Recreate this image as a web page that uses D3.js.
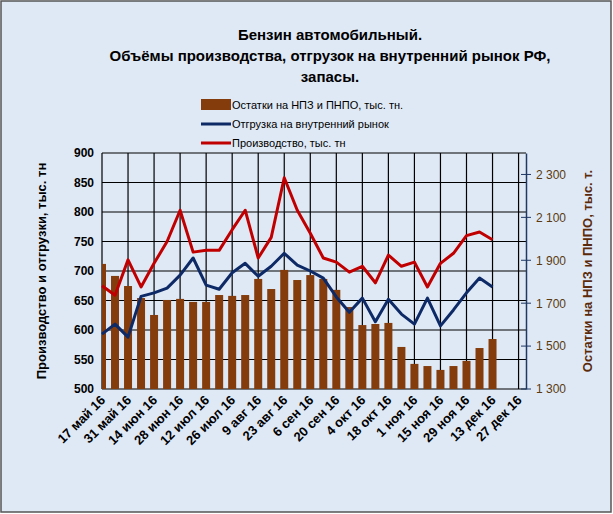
<!DOCTYPE html>
<html><head><meta charset="utf-8">
<script src="https://cdn.jsdelivr.net/npm/d3@7"></script>
<style>body{margin:0;background:#fff}</style>
</head><body><svg></svg>
<script>
var startDate = new Date(2016, 4, 17);
var production = [675, 659, 719, 673, 713, 750, 803, 732, 735, 735, 770, 803, 722, 757, 858, 803, 764, 722, 715, 698, 708, 680, 727, 708, 715, 673, 713, 730, 760, 766, 753];
var shipments = [593, 610, 588, 657, 663, 671, 693, 722, 676, 669, 697, 713, 691, 708, 730, 710, 700, 688, 656, 630, 654, 614, 652, 627, 610, 654, 607, 634, 663, 688, 673];
var stocks = [1883, 1827, 1780, 1724, 1645, 1715, 1720, 1706, 1706, 1738, 1734, 1738, 1813, 1766, 1855, 1808, 1831, 1813, 1762, 1682, 1598, 1603, 1608, 1496, 1417, 1407, 1389, 1407, 1431, 1491, 1533];
var leftTicks = [500, 550, 600, 650, 700, 750, 800, 850, 900];
var rightTicks = [1300, 1500, 1700, 1900, 2100, 2300];
var months = ['янв','фев','мар','апр','май','июн','июл','авг','сен','окт','ноя','дек'];
var dates = production.map(function(d, i) { return d3.timeDay.offset(startDate, 7 * i); });
var labelDates = d3.range(17).map(function(i) { return d3.timeDay.offset(startDate, 14 * i); });

var W = 613, H = 514, plotLeft = 102, plotRight = 526, plotTop = 153, plotBottom = 389;
var svg = d3.select('svg').attr('width', W).attr('height', H);
svg.append('rect').attr('x', 1).attr('y', 1).attr('width', W - 3).attr('height', H - 3)
    .attr('fill', '#dfe9f5').attr('stroke', '#555').attr('stroke-width', 1.5);

var x = d3.scaleTime().domain([startDate, d3.timeDay.offset(startDate, 228)]).range([plotLeft, plotRight]);
var yL = d3.scaleLinear().domain([500, 900]).range([plotBottom, plotTop]);
var yR = d3.scaleLinear().domain([1300, 2400]).range([plotBottom, plotTop]);

// grid
svg.append('g').selectAll('line').data(leftTicks).enter().append('line')
    .attr('x1', plotLeft).attr('x2', plotRight).attr('y1', yL).attr('y2', yL)
    .attr('stroke', '#000').attr('stroke-width', 1.2);
svg.append('g').selectAll('line').data(labelDates.slice(1)).enter().append('line')
    .attr('x1', x).attr('x2', x).attr('y1', plotTop).attr('y2', plotBottom)
    .attr('stroke', '#000').attr('stroke-width', 1.2);
svg.append('line').attr('x1', plotLeft).attr('x2', plotLeft).attr('y1', plotTop).attr('y2', plotBottom)
    .attr('stroke', '#000').attr('stroke-width', 1.2);

svg.append('clipPath').attr('id', 'clip').append('rect')
    .attr('x', plotLeft).attr('y', plotTop).attr('width', plotRight - plotLeft).attr('height', plotBottom - plotTop);

svg.append('g').attr('clip-path', 'url(#clip)').selectAll('rect').data(stocks).enter().append('rect')
    .attr('x', function(d, i) { return x(dates[i]) - 4; })
    .attr('width', 8)
    .attr('y', function(d) { return yR(d); })
    .attr('height', function(d) { return plotBottom - yR(d); })
    .attr('fill', '#843c0c');

function drawLine(data, color) {
    svg.append('path').datum(data)
        .attr('d', d3.line().x(function(d, i) { return x(dates[i]); }).y(function(d) { return yL(d); }))
        .attr('fill', 'none').attr('stroke', color).attr('stroke-width', 3).attr('stroke-linejoin', 'round');
}
drawLine(shipments, '#0d2a66');
drawLine(production, '#c00000');

// left axis
svg.append('g').attr('transform', 'translate(' + plotLeft + ',0)')
    .call(d3.axisLeft(yL).tickValues(leftTicks).tickSize(0).tickPadding(8))
    .call(function(g) { g.select('.domain').remove(); })
    .selectAll('text').attr('font-family', 'Liberation Sans, Arial').attr('font-size', 12)
    .attr('font-weight', 'bold').attr('fill', '#000');

// right axis
var ra = svg.append('g').attr('transform', 'translate(' + plotRight + ',0)')
    .call(d3.axisRight(yR).tickValues(rightTicks).tickSize(0).tickPadding(10)
        .tickFormat(function(d) { return d3.format(',')(d).replace(',', ' '); }));
ra.select('.domain').attr('stroke', '#1f3864').attr('stroke-width', 1.5);
ra.selectAll('text').attr('font-family', 'Liberation Sans, Arial').attr('font-size', 12).attr('fill', '#5a3a10');
ra.append('g').selectAll('line').data([1300, 1500, 1700, 1900, 2100, 2300]).enter().append('line')
    .attr('x1', -5).attr('x2', 5).attr('y1', yR).attr('y2', yR).attr('stroke', '#1f3864');

// x labels
svg.append('g').selectAll('text').data(labelDates).enter().append('text')
    .attr('transform', function(d) { return 'translate(' + (x(d) + 4) + ',' + (plotBottom + 12) + ') rotate(-45)'; })
    .attr('text-anchor', 'end')
    .attr('font-family', 'Liberation Sans, Arial').attr('font-size', 13).attr('font-weight', 'bold')
    .text(function(d) { return d.getDate() + ' ' + months[d.getMonth()] + ' 16'; });

// titles
var title = ['Бензин автомобильный.', 'Объёмы производства,  отгрузок на внутренний рынок РФ,', 'запасы.'];
svg.append('g').selectAll('text').data(title).enter().append('text')
    .attr('x', 330).attr('y', function(d, i) { return 40 + i * 21; })
    .attr('text-anchor', 'middle').attr('font-family', 'Liberation Sans, Arial')
    .attr('font-size', 15).attr('font-weight', 'bold').text(function(d) { return d; });

svg.append('text').attr('transform', 'translate(46,' + ((plotTop + plotBottom) / 2) + ') rotate(-90)')
    .attr('text-anchor', 'middle').attr('font-family', 'Liberation Sans, Arial')
    .attr('font-size', 13).attr('font-weight', 'bold').text('Производство и отгрузки, тыс. тн');
svg.append('text').attr('transform', 'translate(592,' + ((plotTop + plotBottom) / 2) + ') rotate(-90)')
    .attr('text-anchor', 'middle').attr('font-family', 'Liberation Sans, Arial')
    .attr('font-size', 13).attr('font-weight', 'bold').attr('fill', '#5a2a0a').text('Остатки  на НПЗ  и  ПНПО, тыс. т.');

// legend
var legend = [
    {name: 'Остатки  на НПЗ  и ПНПО, тыс. тн.', color: '#843c0c', bar: true},
    {name: 'Отгрузка на внутренний  рынок', color: '#0d2a66'},
    {name: 'Производство,  тыс. тн', color: '#c00000'}
];
var lg = svg.append('g').selectAll('g').data(legend).enter().append('g')
    .attr('transform', function(d, i) { return 'translate(201,' + (105 + i * 19) + ')'; });
lg.append('rect').attr('x', 0).attr('width', 30)
    .attr('y', function(d) { return d.bar ? -6 : -1.5; })
    .attr('height', function(d) { return d.bar ? 11 : 3; })
    .attr('fill', function(d) { return d.color; });
lg.append('text').attr('x', 31).attr('y', 4).attr('font-family', 'Liberation Sans, Arial')
    .attr('font-size', 11).text(function(d) { return d.name; });
</script></body></html>
